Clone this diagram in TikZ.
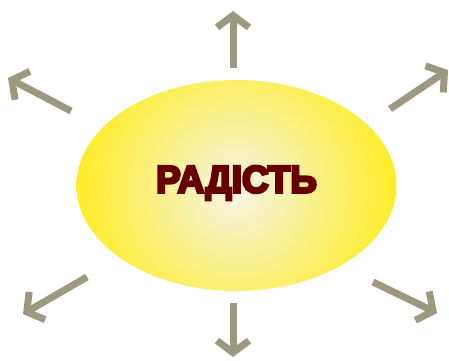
\documentclass[tikz,border=0pt]{standalone}
\usepackage{fontspec}
\newfontfamily\headfont[FakeBold=7]{Liberation Sans Bold}
\usetikzlibrary{arrows.meta}
\definecolor{arrowgray}{RGB}{156,153,128}
\definecolor{sunedge}{RGB}{255,236,30}
\definecolor{suncenter}{RGB}{246,244,232}
\definecolor{titlered}{RGB}{102,0,0}
\tikzset{
  ray/.style={draw=arrowgray, line width=7pt,
    -{Straight Barb[length=12pt,width=32pt,line join=miter]}},
  title/.style={text=titlered, font=\headfont\fontsize{41}{41}\selectfont, inner sep=0pt}
}
\begin{document}
\begin{tikzpicture}[x=1pt,y=-1pt]
\useasboundingbox (0,0) rectangle (449,360);
\begin{scope}
  \clip (236.5,185.5) ellipse [x radius=160, y radius=105.5];
  \shade[inner color=suncenter, outer color=sunedge] (236.5,190) circle [radius=168];
\end{scope}
\node[title, xscale=0.9, yscale=0.93] (t) at (236.5,183) {РАДІСТЬ};
% rays
\coordinate (s1) at (233,68);  \coordinate (e1) at (233,11);
\coordinate (s2) at (233,303); \coordinate (e2) at (233,357);
\coordinate (s3) at (71,111);  \coordinate (e3) at (8,78);
\coordinate (s4) at (390,109); \coordinate (e4) at (448,70);
\coordinate (s5) at (87,277);  \coordinate (e5) at (23,314);
\coordinate (s6) at (373,282); \coordinate (e6) at (437,313);
\foreach \i in {1,...,6} { \draw[ray] (s\i) -- (e\i); }
\end{tikzpicture}
\end{document}
